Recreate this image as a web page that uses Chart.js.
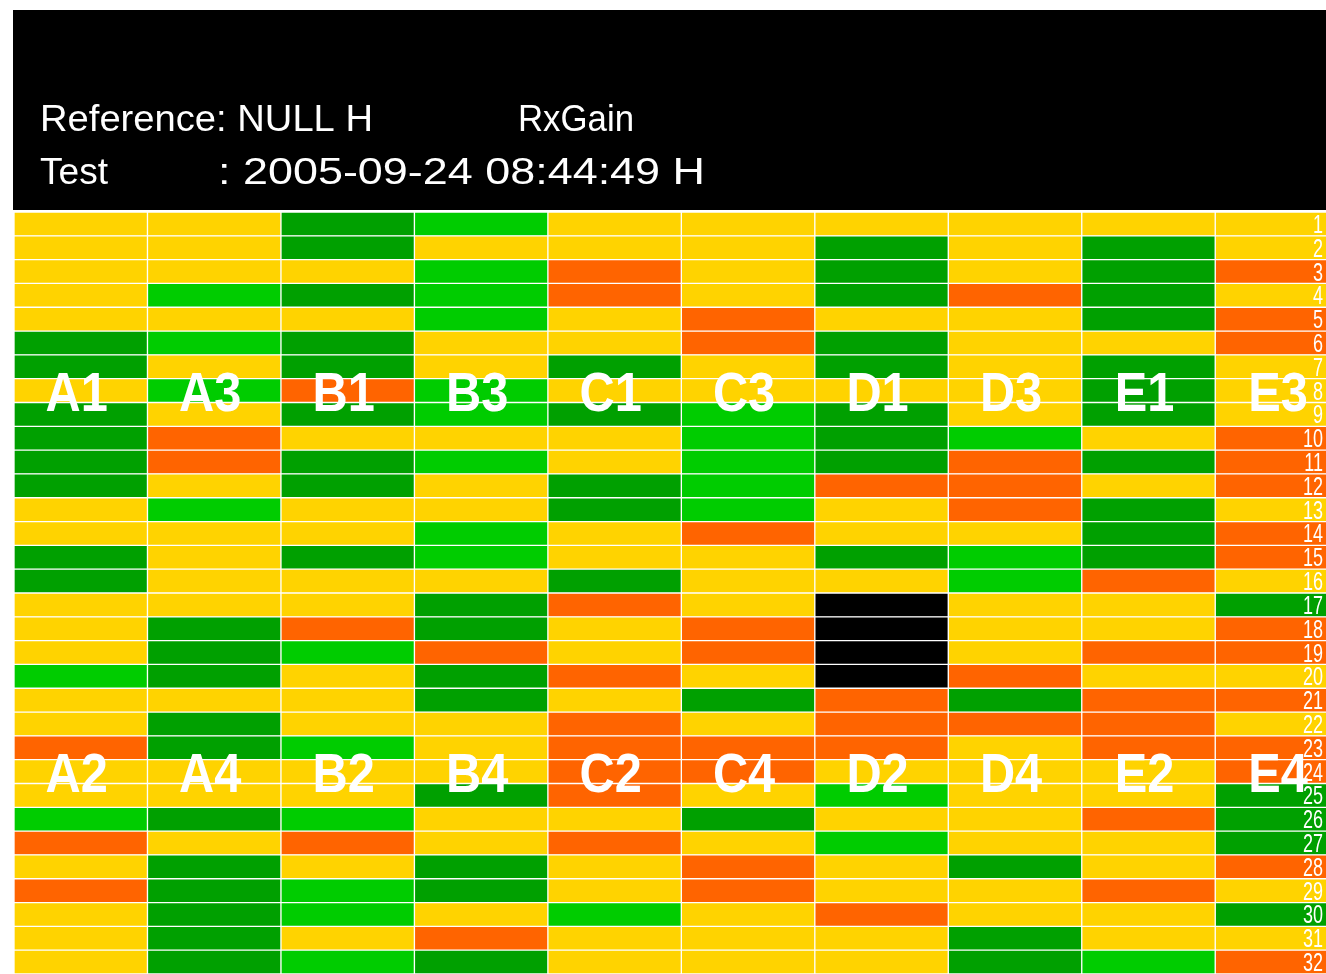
<!DOCTYPE html>
<html>
<head>
<meta charset="utf-8">
<script src="https://cdn.jsdelivr.net/npm/chart.js@4.4.1/dist/chart.umd.min.js"></script>
<style>
  html, body { margin: 0; padding: 0; background: #fff; overflow: hidden; }
  canvas { display: block; }
</style>
</head>
<body>
<canvas id="grid" width="1326" height="974"></canvas>
<script>
// header lines
const headerRef = "Reference: NULL H";
const headerParam = "RxGain";
const headerTest = "Test";
const headerStamp = ": 2005-09-24 08:44:49 H";

// column labels (upper half / lower half)
const topLabels = ["A1", "A3", "B1", "B3", "C1", "C3", "D1", "D3", "E1", "E3"];
const bottomLabels = ["A2", "A4", "B2", "B4", "C2", "C4", "D2", "D4", "E2", "E4"];

// row numbers
const rowLabels = ["1","2","3","4","5","6","7","8","9","10","11","12","13","14","15","16",
                   "17","18","19","20","21","22","23","24","25","26","27","28","29","30","31","32"];

// cell status per column, rows 1..32
// Y = yellow, O = orange, G = dark green, L = light green, K = no data
const colA1A2 = ["Y","Y","Y","Y","Y","G","G","Y","G","G","G","G","Y","Y","G","G",
                 "Y","Y","Y","L","Y","Y","O","Y","Y","L","O","Y","O","Y","Y","Y"];
const colA3A4 = ["Y","Y","Y","L","Y","L","Y","L","Y","O","O","Y","L","Y","Y","Y",
                 "Y","G","G","G","Y","G","G","Y","Y","G","Y","G","G","G","G","G"];
const colB1B2 = ["G","G","Y","G","Y","G","G","O","G","Y","G","G","Y","Y","G","Y",
                 "Y","O","L","Y","Y","Y","L","Y","Y","L","O","Y","L","L","Y","L"];
const colB3B4 = ["L","Y","L","L","L","Y","Y","L","L","Y","L","Y","Y","L","L","Y",
                 "G","G","O","G","G","Y","Y","Y","G","Y","Y","G","G","Y","O","G"];
const colC1C2 = ["Y","Y","O","O","Y","Y","G","Y","G","Y","Y","G","G","Y","Y","G",
                 "O","Y","Y","O","Y","O","O","O","O","Y","O","Y","Y","L","Y","Y"];
const colC3C4 = ["Y","Y","Y","Y","O","O","Y","Y","L","L","L","L","L","O","Y","Y",
                 "Y","O","O","Y","G","Y","O","O","Y","G","Y","O","O","Y","Y","Y"];
const colD1D2 = ["Y","G","G","G","Y","G","G","Y","G","G","G","O","Y","Y","G","Y",
                 "K","K","K","K","O","O","O","Y","L","Y","L","Y","Y","O","Y","Y"];
const colD3D4 = ["Y","Y","Y","O","Y","Y","Y","Y","Y","L","O","O","O","Y","L","L",
                 "Y","Y","Y","O","G","O","Y","Y","Y","Y","Y","G","Y","Y","G","G"];
const colE1E2 = ["Y","G","G","G","G","Y","G","G","G","Y","G","Y","G","G","G","O",
                 "Y","Y","O","Y","O","O","O","Y","Y","O","Y","Y","O","Y","Y","L"];
const colE3E4 = ["Y","Y","O","Y","O","O","Y","Y","Y","O","O","O","Y","O","O","Y",
                 "G","O","O","Y","O","Y","O","O","G","G","G","O","Y","G","Y","O"];

const columns = [colA1A2, colA3A4, colB1B2, colB3B4, colC1C2, colC3C4, colD1D2, colD3D4, colE1E2, colE3E4];

const palette = { Y: "#FFD300", O: "#FF6400", G: "#00A000", L: "#00CC00", K: "#000000" };

// each column is one dataset of floating horizontal bars spanning [c, c+1]
const datasets = columns.map(function (codes, c) {
    return {
        label: topLabels[c] + "/" + bottomLabels[c],
        data: codes.map(function () { return [c, c + 1]; }),
        backgroundColor: codes.map(function (k) { return palette[k]; }),
        borderColor: "#ffffff",
        borderWidth: 1,
        borderSkipped: false,
        grouped: false,
        barPercentage: 1,
        categoryPercentage: 1
    };
});

// draw text squeezed/stretched to a target width
function fitText(ctx, text, x, baseline, font, width) {
    ctx.font = font;
    const w = ctx.measureText(text).width;
    ctx.save();
    ctx.translate(x, baseline);
    ctx.scale(width / w, 1);
    ctx.fillText(text, 0, 0);
    ctx.restore();
}

const headerPlugin = {
    id: "header",
    beforeDraw(chart) {
        const ctx = chart.ctx;
        ctx.save();
        ctx.fillStyle = "#ffffff";
        ctx.fillRect(0, 0, chart.width, chart.height);
        ctx.fillStyle = "#000000";
        ctx.fillRect(13, 10, chart.width - 13, 200);
        ctx.fillStyle = "#ffffff";
        ctx.textBaseline = "alphabetic";
        ctx.textAlign = "left";
        const f = '37px "Liberation Sans", Arial, sans-serif';
        fitText(ctx, headerRef, 40, 131, f, 333);
        fitText(ctx, headerParam, 518, 131, f, 116);
        fitText(ctx, headerTest, 40, 184, f, 68);
        fitText(ctx, headerStamp, 218, 184, f, 487);
        ctx.restore();
    },
    afterDatasetsDraw(chart) {
        const ctx = chart.ctx;
        const xs = chart.scales.x;
        const ys = chart.scales.y;
        ctx.save();
        ctx.fillStyle = "#ffffff";
        ctx.textAlign = "left";
        ctx.textBaseline = "alphabetic";
        ctx.font = 'bold 56px "Liberation Sans", Arial, sans-serif';
        const drawLabel = function (text, c, row) {
            const w = ctx.measureText(text).width * 0.87;
            const cx = xs.getPixelForValue(c + 0.5) - 4;
            const cy = ys.getPixelForValue(row);
            ctx.save();
            ctx.translate(cx - w / 2, cy + 20);
            ctx.scale(0.87, 1);
            ctx.fillText(text, 0, 0);
            ctx.restore();
        };
        topLabels.forEach(function (t, c) { drawLabel(t, c, 7); });
        bottomLabels.forEach(function (t, c) { drawLabel(t, c, 23); });

        // row numbers along the right edge, narrow
        ctx.font = '25px "Liberation Sans", Arial, sans-serif';
        rowLabels.forEach(function (t, i) {
            const cy = ys.getPixelForValue(i);
            const w = ctx.measureText(t).width * 0.72;
            ctx.save();
            ctx.translate(chart.chartArea.right - 3 - w, cy + 9);
            ctx.scale(0.72, 1);
            ctx.fillText(t, 0, 0);
            ctx.restore();
        });
        ctx.restore();
    }
};

new Chart(document.getElementById("grid"), {
    type: "bar",
    data: { labels: rowLabels, datasets: datasets },
    options: {
        indexAxis: "y",
        responsive: false,
        animation: false,
        layout: { padding: { top: 212, left: 14, right: 0, bottom: 0 } },
        plugins: {
            legend: { display: false },
            tooltip: { enabled: false },
            title: { display: false }
        },
        scales: {
            x: {
                type: "linear",
                min: 0,
                max: 9.83,
                display: false
            },
            y: {
                type: "category",
                display: false
            }
        }
    },
    plugins: [headerPlugin]
});
</script>
</body>
</html>
